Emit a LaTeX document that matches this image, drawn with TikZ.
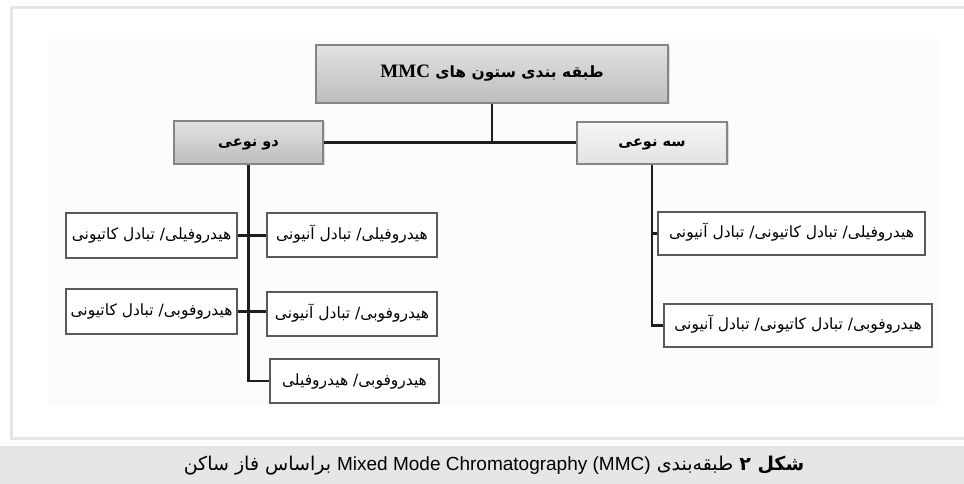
\documentclass[tikz,border=0pt]{standalone}
\usepackage{fontspec}
\usetikzlibrary{shadows}
\TeXXeTstate=1
\newfontfamily\arfont[Script=Arabic]{DejaVu Sans}
\newfontfamily\lserif{Liberation Serif}
\newfontfamily\lsans{Liberation Sans}
\definecolor{framegray}{HTML}{E6E6E6}
\definecolor{panel}{HTML}{FCFCFC}
\definecolor{capband}{HTML}{E5E7E6}
\definecolor{hdrtop}{HTML}{E2E2E2}
\definecolor{hdrbot}{HTML}{BDBDBD}
\definecolor{lttop}{HTML}{F6F6F6}
\definecolor{ltbot}{HTML}{E2E2E2}
\definecolor{hdrline}{HTML}{858585}
\definecolor{boxline}{HTML}{5A5A5A}
\definecolor{conn}{HTML}{1E1E1E}
\tikzset{
  hdr/.style={draw=hdrline, line width=1.6pt, top color=hdrtop, bottom color=hdrbot,
    drop shadow={opacity=0.25, shadow xshift=1.5pt, shadow yshift=-1.5pt},
    inner sep=0pt, text height=0.8em, text depth=0pt, font=\arfont\bfseries},
  hdrlight/.style={hdr, top color=lttop, bottom color=ltbot},
  leaf/.style={draw=boxline, line width=1.8pt, fill=white, inner sep=0pt,
    text height=0.8em, text depth=0pt,
    font=\arfont\fontsize{15.5}{18}\selectfont},
  link/.style={draw=conn, line width=2.4pt},
}
\begin{document}
\begin{tikzpicture}[x=1pt,y=-1pt]
\useasboundingbox (0,0) rectangle (964,484);
% frame and panels
\fill[white] (0,0) rectangle (964,484);
\draw[framegray, line width=3pt] (11,8) -- (990,8);
\draw[framegray, line width=3pt] (11,8) -- (11,438) -- (990,438);
\fill[panel] (48,39) rectangle (938,406);
\fill[capband] (0,446) rectangle (964,484);

% header nodes
\node[hdr, minimum width=352pt, minimum height=58pt, font=\arfont\bfseries\fontsize{15.5}{20}\selectfont] (top) at (492,74)
  {\beginR طبقه بندی ستون های {\lserif\bfseries\fontsize{19}{20}\selectfont MMC}\endR};
\node[hdr, minimum width=149pt, minimum height=43pt, font=\arfont\bfseries\fontsize{14.5}{18}\selectfont] (two) at (248.5,142.5)
  {\beginR دو نوعی\endR};
\node[hdrlight, minimum width=150pt, minimum height=42pt, font=\arfont\bfseries\fontsize{14.5}{18}\selectfont] (three) at (652,143)
  {\beginR سه نوعی\endR};

% leaf nodes
\node[leaf, minimum width=170pt, minimum height=44pt] (l1a) at (352,235)
  {\beginR هیدروفیلی/ تبادل آنیونی\endR};
\node[leaf, minimum width=171pt, minimum height=45pt] (l1b) at (151.5,235.5)
  {\beginR هیدروفیلی/ تبادل کاتیونی\endR};
\node[leaf, minimum width=170pt, minimum height=44pt] (l2a) at (352,314)
  {\beginR هیدروفوبی/ تبادل آنیونی\endR};
\node[leaf, minimum width=171pt, minimum height=45pt] (l2b) at (151.5,311.5)
  {\beginR هیدروفوبی/ تبادل کاتیونی\endR};
\node[leaf, minimum width=169pt, minimum height=44pt] (l3) at (354.5,381)
  {\beginR هیدروفوبی/ هیدروفیلی\endR};
\node[leaf, minimum width=267pt, minimum height=43pt] (r1) at (791.5,233.5)
  {\beginR هیدروفیلی/ تبادل کاتیونی/ تبادل آنیونی\endR};
\node[leaf, minimum width=268pt, minimum height=43pt] (r2) at (798,325.5)
  {\beginR هیدروفوبی/ تبادل کاتیونی/ تبادل آنیونی\endR};

% connectors
\draw[link] (two.east) -- (two.east -| three.west);
\draw[link] (top.south) -- (top.south |- two.east);
\draw[link] (two.south) |- (l3.west);
\draw[link] (l1b.east) -- (l1b.east -| l1a.west);
\draw[link] (l2b.east) -- (l2b.east -| l2a.west);
\draw[link] (three.south) |- (r2.west);
\draw[link] (three.south |- r1.west) -- (r1.west);

% caption
\node[font=\arfont\fontsize{19}{22}\selectfont, inner sep=0pt, text height=0.8em, text depth=0pt] (cap) at (494,466)
  {\beginR{\bfseries شکل ۲} طبقه‌بندی \beginL{\lsans\fontsize{19}{22}\selectfont Mixed Mode Chromatography (MMC)}\endL{} براساس فاز ساکن\endR};
\end{tikzpicture}
\end{document}
